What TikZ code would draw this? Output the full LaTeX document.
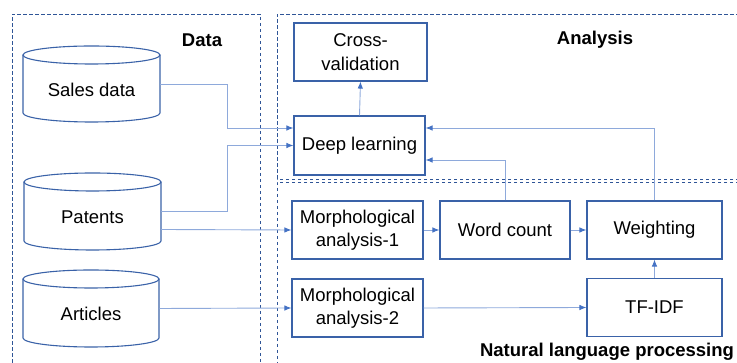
\documentclass[tikz,border=0pt]{standalone}
\usepackage{fontspec}
\setmainfont{Liberation Sans}
\usetikzlibrary{arrows.meta,calc}
\definecolor{boxblue}{HTML}{3A62A8}
\definecolor{linkblue}{HTML}{8EA9DB}
\definecolor{tipblue}{HTML}{4472C4}
\definecolor{panelblue}{HTML}{2F5597}
% database cylinder: left x, right x, top y, bottom y
\newcommand\dbcyl[4]{%
  \draw[cylline] (#1,#3-9) -- (#1,#4+9)
    arc[start angle=180, end angle=360, x radius={(#2-#1)/2}, y radius=9]
    -- (#2,#3-9);
  \draw[cylline] ({(#1+#2)/2},#3-9) ellipse [x radius={(#2-#1)/2}, y radius=9];
}
\begin{document}
\begin{tikzpicture}[x=1pt,y=1pt,
  font=\fontsize{18.5}{23.5}\selectfont,
  panel/.style={draw=panelblue, line width=0.9pt, dash pattern=on 3.5pt off 2.5pt},
  cylline/.style={draw=boxblue, line width=1.1pt},
  proc/.style={draw=boxblue, line width=1.1pt, minimum width=131pt, minimum height=58pt, align=center, inner sep=2pt},
  dbtext/.style={minimum width=137pt, minimum height=76pt, inner sep=0pt},
  conn/.style={draw=linkblue, line width=0.9pt, -{Latex[length=7pt,width=5.5pt,color=tipblue]}},
  title/.style={font=\fontsize{18.5}{22}\selectfont\bfseries}]
\useasboundingbox (0,0) rectangle (737,363);

% panels
\draw[panel] (12,-6) -- (12,349) -- (260,349) -- (260,-6);
\draw[panel] (745,184) -- (277,184) -- (277,349) -- (745,349);
\draw[panel] (745,181) -- (277,181) -- (277,-6);

\node[title] (tdata) at (202,323) {Data};
\node[title] (tana) at (595,323) {Analysis};
\node[title] (tnlp) at (607,11) {Natural language processing};

% data sources
\dbcyl{23}{160}{317}{241}
\dbcyl{24}{161}{190}{113}
\dbcyl{23}{159}{93}{16}
\node[dbtext, label={[yshift=-6pt]center:Sales data}] (sales) at (91.5,279) {};
\node[dbtext, label={[yshift=-6pt]center:Patents}] (patents) at (92.5,151.5) {};
\node[dbtext, label={[yshift=-5pt]center:Articles}] (articles) at (91,54.5) {};

% analysis
\node[proc, minimum width=133pt] (cv) at (360.5,311) {Cross-\\validation};
\node[proc, minimum height=59pt] (dl) at (359.5,217.5) {Deep learning};

% natural language processing
\node[proc] (m1) at (357.5,133) {Morphological\\analysis-1};
\node[proc, minimum width=130pt] (wc) at (505,133) {Word count};
\node[proc, minimum width=135pt] (wt) at (654.5,133) {Weighting};
\node[proc] (m2) at (357.5,55) {Morphological\\analysis-2};
\node[proc, minimum width=135pt] (tf) at (654.5,55.5) {TF-IDF};

% connectors
\draw[conn] (sales.east) -| ([xshift=-66pt,yshift=17.5pt]dl.west) -- ([yshift=17.5pt]dl.west);
\draw[conn] (patents.east) -| ([xshift=-66pt]dl.west) -- (dl.west);
\draw[conn] ([yshift=-18pt]patents.east) -- (m1.west);
\draw[conn] (articles.east) -- (m2.west);
\draw[conn] (dl.north) -- (cv.south);
\draw[conn] (wc.north) |- ([yshift=-14.5pt]dl.east);
\draw[conn] (wt.north) |- ([yshift=17.5pt]dl.east);
\draw[conn] (m1.east) -- (wc.west);
\draw[conn] (wc.east) -- (wt.west);
\draw[conn] (m2.east) -- (tf.west);
\draw[conn] (tf.north) -- (wt.south);
\end{tikzpicture}
\end{document}
